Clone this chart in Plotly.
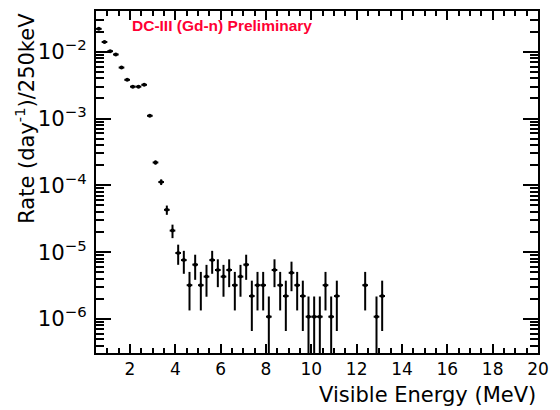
import plotly.graph_objects as go

# Bin centres (MeV), 250 keV bins; empty bins omitted
energy = [0.625, 0.875, 1.125, 1.375, 1.625, 1.875, 2.125, 2.375, 2.625, 2.875,
          3.125, 3.375, 3.625, 3.875, 4.125, 4.375, 4.625, 4.875, 5.125, 5.375,
          5.625, 5.875, 6.125, 6.375, 6.625, 6.875, 7.125, 7.375, 7.625, 7.875,
          8.125, 8.375, 8.625, 8.875, 9.125, 9.375, 9.625, 9.875, 10.125, 10.375,
          10.625, 10.875, 11.125, 12.375, 12.875, 13.125]

rate = [2.2e-2, 1.4e-2, 1.02e-2, 9.1e-3, 5.8e-3, 3.8e-3, 3.0e-3, 3.0e-3, 3.2e-3, 1.1e-3,
        2.2e-4, 1.12e-4, 4.3e-5, 2.1e-5, 9.7e-6, 7.6e-6, 3.2e-6, 6.5e-6, 3.2e-6, 4.3e-6,
        7.6e-6, 5.4e-6, 4.3e-6, 5.4e-6, 3.2e-6, 4.3e-6, 6.5e-6, 2.2e-6, 3.2e-6, 3.2e-6,
        1.08e-6, 5.4e-6, 3.2e-6, 2.2e-6, 4.9e-6, 3.2e-6, 2.2e-6, 1.08e-6, 1.08e-6, 1.08e-6,
        3.2e-6, 1.08e-6, 2.2e-6, 3.2e-6, 1.08e-6, 2.2e-6]

rate_err = [1.54e-4, 1.23e-4, 1.05e-4, 9.9e-5, 7.9e-5, 6.4e-5, 5.7e-5, 5.7e-5, 5.9e-5, 3.4e-5,
            1.54e-5, 1.1e-5, 6.8e-6, 4.8e-6, 3.24e-6, 2.86e-6, 1.86e-6, 2.65e-6, 1.86e-6, 2.15e-6,
            2.86e-6, 2.41e-6, 2.15e-6, 2.41e-6, 1.86e-6, 2.15e-6, 2.65e-6, 1.54e-6, 1.86e-6, 1.86e-6,
            1.08e-6, 2.41e-6, 1.86e-6, 1.54e-6, 2.3e-6, 1.86e-6, 1.54e-6, 1.08e-6, 1.08e-6, 1.08e-6,
            1.86e-6, 1.08e-6, 1.54e-6, 1.86e-6, 1.08e-6, 1.54e-6]

bin_half_width = 0.125

x_ticks = [2, 4, 6, 8, 10, 12, 14, 16, 18, 20]
x_range = [0.5, 20]
y_range = [-6.51, -1.39]

fig = go.Figure()
fig.add_trace(go.Scatter(
    x=energy, y=rate, mode="markers",
    marker=dict(color="black", size=4, symbol="circle"),
    error_x=dict(type="constant", value=bin_half_width, color="black", thickness=2, width=0),
    error_y=dict(type="data", array=rate_err, symmetric=True, color="black", thickness=2, width=0),
    showlegend=False,
    cliponaxis=True,
))

common_x = dict(
    range=x_range, tickvals=x_ticks, ticks="inside", ticklen=9, tickwidth=1.5,
    tickcolor="black", showline=True, linecolor="black", linewidth=2,
    showgrid=False, zeroline=False,
    minor=dict(dtick=0.5, ticks="inside", ticklen=5, tickwidth=1.5, tickcolor="black", showgrid=False),
)
common_y = dict(
    type="log", range=y_range, dtick=1, exponentformat="power",
    ticks="inside", ticklen=15, tickwidth=1.5, tickcolor="black",
    showline=True, linecolor="black", linewidth=2,
    showgrid=False, zeroline=False,
    minor=dict(dtick="D1", ticks="inside", ticklen=8, tickwidth=1.5, tickcolor="black", showgrid=False),
)

fig.update_layout(
    width=560, height=410,
    margin=dict(l=96, r=14, t=11, b=57),
    paper_bgcolor="white", plot_bgcolor="white",
    font=dict(family="DejaVu Sans", color="black", size=17),
    xaxis=dict(**common_x, tickfont=dict(size=17)),
    yaxis=dict(**common_y, tickfont=dict(size=17), ticklabelstandoff=4),
    xaxis2=dict(**common_x, overlaying="x", side="top", anchor="y", showticklabels=False),
    yaxis2=dict(**common_y, overlaying="y", side="right", anchor="x", showticklabels=False),
    annotations=[
        dict(text="Visible Energy (MeV)", xref="paper", yref="paper", x=1.0, y=-0.1228,
             xanchor="right", yanchor="middle", showarrow=False, font=dict(size=21)),
        dict(text="Rate (day<sup>-1</sup>)/250keV", xref="paper", yref="paper",
             x=(23 - 96) / 450, y=1.0, xanchor="center", yanchor="top", textangle=-90,
             showarrow=False, font=dict(size=21)),
        dict(text="<b>DC-III (Gd-n) Preliminary</b>", xref="paper", yref="paper",
             x=(131 - 96) / 450, y=(353 - 25) / 342, xanchor="left", yanchor="middle",
             showarrow=False, font=dict(family="Liberation Sans", size=15.5, color="#ff0033")),
    ],
)

# invisible trace so the mirrored axes get drawn
fig.add_trace(go.Scatter(x=[None], y=[None], xaxis="x2", yaxis="y2",
                         showlegend=False, hoverinfo="skip"))

fig.write_html("out.html")
